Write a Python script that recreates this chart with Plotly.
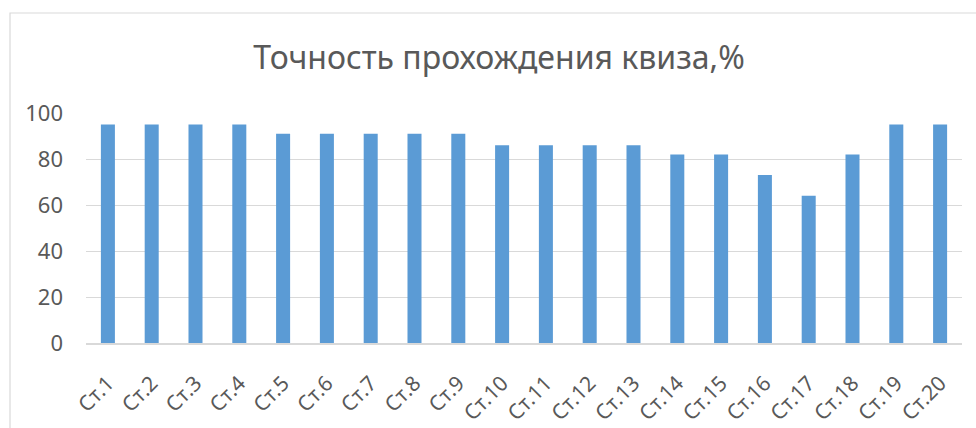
import plotly.graph_objects as go

# Quiz accuracy per student, percent
students = [f"Ст.{i}" for i in range(1, 21)]
accuracy = [95, 95, 95, 95, 91, 91, 91, 91, 91, 86,
            86, 86, 86, 82, 82, 73, 64, 82, 95, 95]
y_ticks = [0, 20, 40, 60, 80, 100]

W, H = 976, 428
ML, MR, MT, MB = 86, 14, 113, 85
pw, ph = W - ML - MR, H - MT - MB

def px_x(x):
    return (x - ML) / pw

def px_y(y):
    return (H - MB - y) / ph

text_color = "#595959"
grid_color = "#d9d9d9"
font_family = "Noto Sans, Open Sans, DejaVu Sans, sans-serif"

fig = go.Figure(
    go.Bar(
        x=students,
        y=accuracy,
        marker=dict(color="#5B9BD5", line=dict(width=0)),
        hoverinfo="x+y",
    )
)

fig.update_layout(
    width=W,
    height=H,
    margin=dict(l=ML, r=MR, t=MT, b=MB, pad=0, autoexpand=False),
    paper_bgcolor="white",
    plot_bgcolor="white",
    bargap=0.68,
    showlegend=False,
    font=dict(family=font_family, color=text_color, size=21),
    title=dict(
        text="Точность прохождения квиза,%",
        font=dict(family=font_family, size=32, color=text_color),
        xref="container",
        yref="container",
        x=499 / W,
        y=1 - 58 / H,
        xanchor="center",
        yanchor="middle",
    ),
    xaxis=dict(
        tickangle=-45,
        showgrid=False,
        showline=True,
        linecolor=grid_color,
        linewidth=1.5,
        ticks="",
        ticklabelstandoff=18,
        tickfont=dict(size=21, color=text_color),
        automargin=False,
        fixedrange=True,
    ),
    yaxis=dict(
        range=[0, 100],
        tickvals=y_ticks,
        showgrid=True,
        gridcolor=grid_color,
        gridwidth=1.2,
        zeroline=False,
        showline=False,
        ticks="",
        ticklabelstandoff=22,
        tickfont=dict(size=22, color=text_color),
        automargin=False,
        fixedrange=True,
    ),
    shapes=[
        dict(
            type="rect",
            xref="paper",
            yref="paper",
            x0=px_x(10),
            x1=px_x(W + 20),
            y0=px_y(H + 20),
            y1=px_y(13),
            line=dict(color=grid_color, width=1.2),
            fillcolor="rgba(0,0,0,0)",
            layer="below",
        )
    ],
)

fig.write_html("out.html")
